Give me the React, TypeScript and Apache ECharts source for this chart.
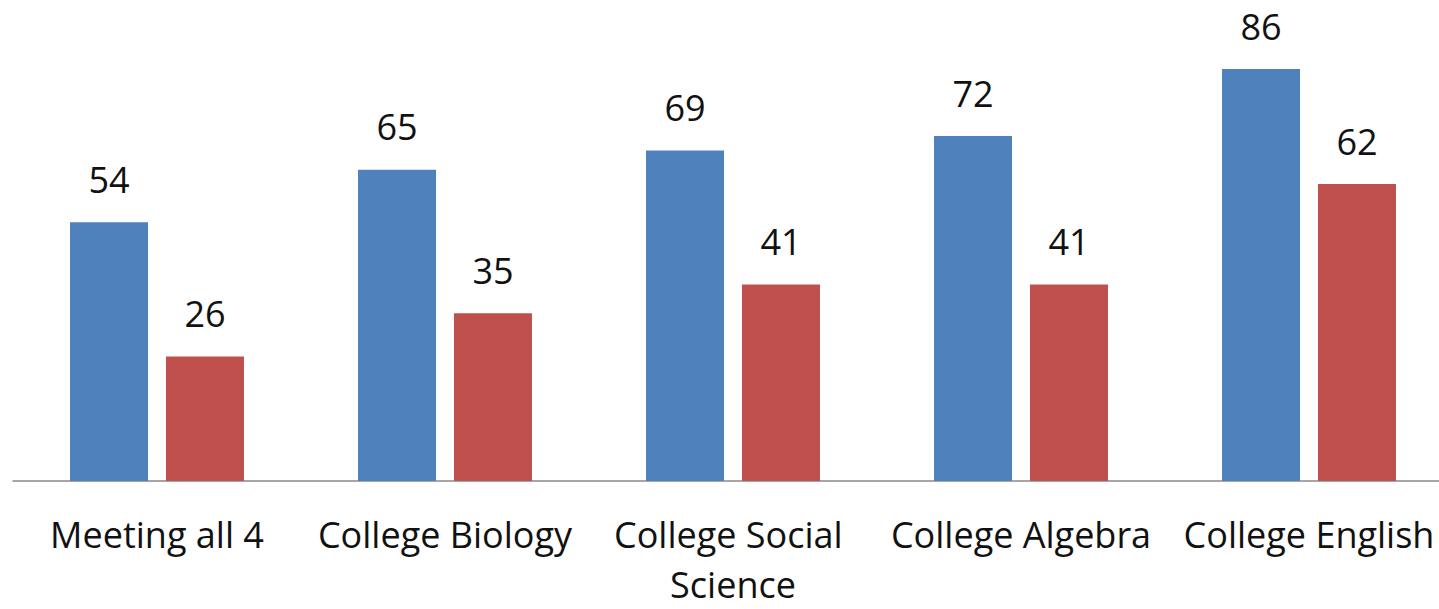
import React, { useEffect, useRef } from "react";
import * as echarts from "echarts";

const categories = [
  "Meeting all 4",
  "College Biology",
  "College Social Science",
  "College Algebra",
  "College English",
];
const seriesA = [54, 65, 69, 72, 86];
const seriesB = [26, 35, 41, 41, 62];

const FONT = "'Open Sans', 'Noto Sans', sans-serif";

export default function App() {
  const ref = useRef<HTMLDivElement>(null);
  useEffect(() => {
    if (!ref.current) return;
    const chart = echarts.init(ref.current, undefined, { renderer: "svg" });
    const label = {
      show: true,
      position: "top" as const,
      distance: 25,
      fontFamily: FONT,
      fontSize: 36,
      color: "#111",
    };
    chart.setOption({
      animation: false,
      backgroundColor: "#fff",
      grid: { left: 13, right: 7, top: 2, bottom: 126 },
      xAxis: {
        type: "category",
        data: categories,
        axisLine: { show: true, lineStyle: { color: "#888", width: 1.5 } },
        axisTick: { show: false },
        axisLabel: {
          interval: 0,
          margin: 28,
          fontFamily: FONT,
          fontSize: 36,
          lineHeight: 50,
          color: "#111",
          width: 282,
          overflow: "break",
        },
      },
      yAxis: {
        type: "value",
        min: 0,
        max: 100,
        show: false,
        splitLine: { show: false },
      },
      series: [
        {
          type: "bar",
          data: seriesA,
          barWidth: 78,
          barGap: "23%",
          itemStyle: { color: "#4F81BD" },
          label,
        },
        {
          type: "bar",
          data: seriesB,
          barWidth: 78,
          barGap: "23%",
          itemStyle: { color: "#C0504D" },
          label,
        },
      ],
    });
    return () => chart.dispose();
  }, []);
  return (
    <div
      style={{
        position: "fixed",
        left: 0,
        top: 0,
        width: 1439,
        height: 609,
        overflow: "hidden",
        background: "#fff",
      }}
    >
      <div ref={ref} style={{ width: 1460, height: 609 }} />
    </div>
  );
}
